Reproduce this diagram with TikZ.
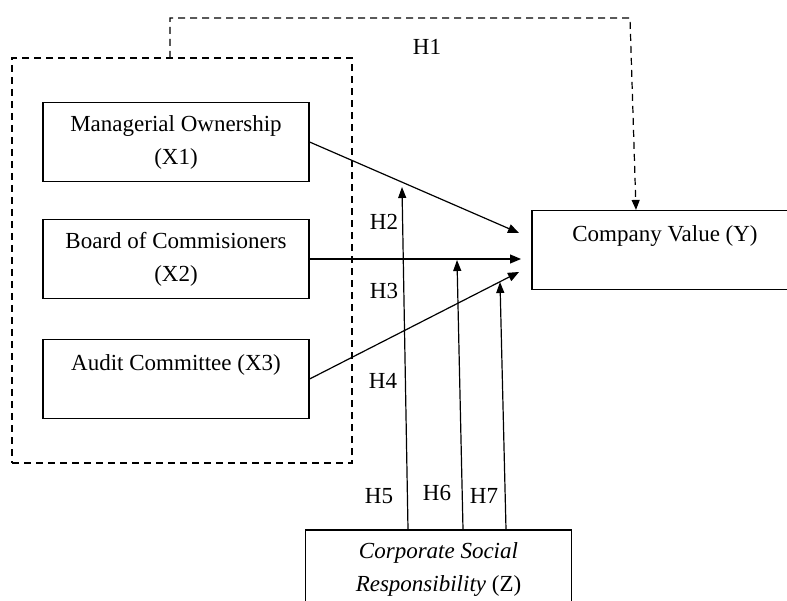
\documentclass[tikz,border=0pt]{standalone}
\usepackage{fontspec}
\setmainfont{Liberation Serif}
\usepackage{tikz}
\usetikzlibrary{arrows.meta,positioning}
\tikzset{
  varbox/.style={
    rectangle,
    draw=black,
    line width=1.2pt,
    align=center,
    minimum width=266pt,
    minimum height=79pt,
    font=\fontsize{23}{33}\selectfont
  },
  groupbox/.style={
    rectangle,
    draw=black,
    line width=1.2pt,
    dash pattern=on 7pt off 5pt,
    minimum width=340pt,
    minimum height=405pt
  },
  hyplabel/.style={
    font=\fontsize{23}{26}\selectfont,
    inner sep=0pt
  },
  effectline/.style={-{Triangle[length=11pt,width=9pt]},line width=1.2pt},
  moderline/.style={-{Triangle[length=11pt,width=8pt]},line width=1.2pt},
  directline/.style={-{Triangle[length=10pt,width=8pt]},line width=1.2pt,dash pattern=on 7pt off 5pt}
}
\begin{document}
\begin{tikzpicture}[x=1pt,y=-1pt]
  \useasboundingbox (0,0) rectangle (787,601);
  % independent variables
  \node[groupbox] (grp) at (182,260.5) {};
  \node[varbox] (x1) at (176,142) {Managerial Ownership\\(X1)};
  \node[varbox] (x2) at (176,259) {Board of Commisioners\\(X2)};
  \node[varbox] (x3) at (176,379) {Audit Committee (X3)\\\mbox{}};
  % dependent and moderating variables
  \node[varbox] (cv) at (665,250) {Company Value (Y)\\\mbox{}};
  \node[varbox] (csr) at (438.5,569.5) {\textit{Corporate Social}\\\textit{Responsibility} (Z)};
  % arrow end points
  \coordinate (h1a) at (170,58);
  \coordinate (y1) at (519,233);
  \coordinate (y2) at (521,259);
  \coordinate (y3) at (519,272);
  \coordinate (t2) at (402,187);
  \coordinate (t3) at (457,260);
  \coordinate (t4) at (500,282);
  % direct effects
  \draw[directline] (h1a) -- (170,18) -- (630,18) -- ([xshift=-29pt]cv.north);
  \draw[effectline] (x1.east) -- (y1);
  \draw[effectline] (x2.east) -- (y2);
  \draw[effectline] (x3.east) -- (y3);
  % moderation
  \draw[moderline] ([xshift=-30.5pt]csr.north) -- (t2);
  \draw[moderline] ([xshift=24.5pt]csr.north) -- (t3);
  \draw[moderline] ([xshift=67.5pt]csr.north) -- (t4);
  % labels
  \node[hyplabel] (lh1) at (427,47) {H1};
  \node[hyplabel] (lh2) at (384,222) {H2};
  \node[hyplabel] (lh3) at (384,291) {H3};
  \node[hyplabel] (lh4) at (383,381) {H4};
  \node[hyplabel] (lh5) at (379,496) {H5};
  \node[hyplabel] (lh6) at (437,493) {H6};
  \node[hyplabel] (lh7) at (484,496) {H7};
\end{tikzpicture}
\end{document}
